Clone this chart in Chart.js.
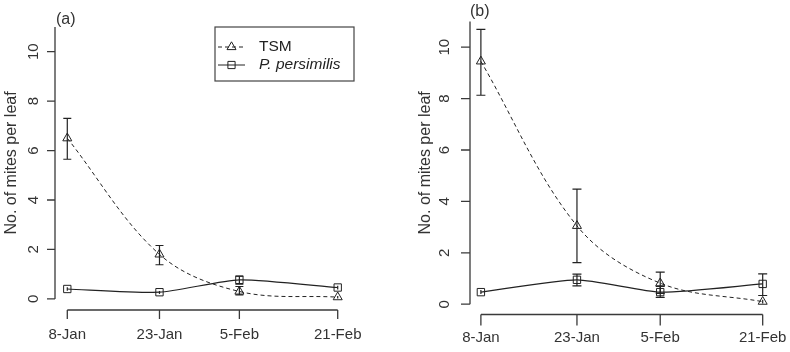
<!DOCTYPE html>
<html><head><meta charset="utf-8">
<script src="https://cdn.jsdelivr.net/npm/chart.js@4"></script>
<style>html,body{margin:0;padding:0;background:#fff;}#wrap{position:relative;width:790px;height:352px;}canvas{position:absolute;left:0;top:0;}</style>
</head><body><div id="wrap"><canvas id="ca" width="790" height="352"></canvas><canvas id="cb" width="790" height="352"></canvas></div>
<script>
// ---- data ----
const dateLabels = ['8-Jan', '23-Jan', '5-Feb', '21-Feb'];
const dayNumbers = [8, 23, 36, 52];
const yTicks = [0, 2, 4, 6, 8, 10];
const seriesNames = ['TSM', 'P. persimilis'];
const yTitle = 'No. of mites per leaf';

const tsmA    = [6.5, 1.8, 0.3, 0.07];
const tsmA_lo = [5.65, 1.38, 0.16, 0.02];
const tsmA_hi = [7.3, 2.16, 0.5, 0.12];
const perA    = [0.4, 0.27, 0.77, 0.46];
const perA_lo = [0.33, 0.2, 0.6, 0.38];
const perA_hi = [0.47, 0.32, 0.92, 0.53];

const tsmB    = [9.45, 3.05, 0.82, 0.1];
const tsmB_lo = [8.13, 1.62, 0.42, 0.03];
const tsmB_hi = [10.69, 4.48, 1.25, 0.17];
const perB    = [0.47, 0.95, 0.47, 0.79];
const perB_lo = [0.4, 0.71, 0.27, 0.34];
const perB_hi = [0.55, 1.17, 0.69, 1.18];

const INK = '#222';
const AXIS = '#3a3a3a';
const FONT = '"Liberation Sans", Arial, sans-serif';

function pts(vals) { return vals.map((v, i) => ({ x: dayNumbers[i], y: v })); }

const panelPlugin = {
  id: 'panel',
  afterDatasetsDraw(chart) {
    const o = chart.options.plugins.panel;
    const ctx = chart.ctx;
    const xs = chart.scales.x, ys = chart.scales.y;
    const ca = chart.chartArea;
    ctx.save();
    // error bars
    chart.data.datasets.forEach(ds => {
      ds.data.forEach((p, i) => {
        const x = xs.getPixelForValue(p.x);
        const y1 = ys.getPixelForValue(ds.lo[i]);
        const y2 = ys.getPixelForValue(ds.hi[i]);
        ctx.strokeStyle = INK; ctx.lineWidth = 1.2; ctx.setLineDash([]);
        ctx.beginPath();
        ctx.moveTo(x, y1); ctx.lineTo(x, y2);
        if (Math.abs(y1 - y2) > 4) {
          ctx.moveTo(x - o.cap, y1); ctx.lineTo(x + o.cap, y1);
          ctx.moveTo(x - o.cap, y2); ctx.lineTo(x + o.cap, y2);
        }
        ctx.stroke();
      });
    });
    // y axis
    ctx.strokeStyle = AXIS; ctx.lineWidth = 1.3;
    const left = ca.left;
    ctx.beginPath();
    ctx.moveTo(left, ys.getPixelForValue(0));
    ctx.lineTo(left, ca.top);
    yTicks.forEach(t => {
      const y = ys.getPixelForValue(t);
      ctx.moveTo(left - o.yTick, y); ctx.lineTo(left, y);
    });
    // x axis
    const xb = ca.bottom;
    ctx.moveTo(xs.getPixelForValue(dayNumbers[0]), xb);
    ctx.lineTo(xs.getPixelForValue(dayNumbers[dayNumbers.length - 1]), xb);
    dayNumbers.forEach(d => {
      const x = xs.getPixelForValue(d);
      ctx.moveTo(x, xb); ctx.lineTo(x, xb + o.xTick);
    });
    ctx.stroke();
    // tick labels
    ctx.fillStyle = '#333';
    ctx.font = o.tickFont + 'px ' + FONT;
    ctx.textAlign = 'center'; ctx.textBaseline = 'middle';
    dayNumbers.forEach((d, i) => {
      ctx.fillText(dateLabels[i], xs.getPixelForValue(d), xb + o.xLabelOff);
    });
    yTicks.forEach(t => {
      ctx.save();
      ctx.translate(left - o.yLabelOff, ys.getPixelForValue(t));
      ctx.rotate(-Math.PI / 2);
      ctx.fillText(String(t), 0, 0);
      ctx.restore();
    });
    // axis title
    ctx.save();
    ctx.font = o.titleFont + 'px ' + FONT;
    ctx.translate(o.titleX, (ys.getPixelForValue(0) + ca.top) / 2);
    ctx.rotate(-Math.PI / 2);
    ctx.fillText(yTitle, 0, 0);
    ctx.restore();
    // panel label
    ctx.font = o.titleFont + 'px ' + FONT;
    ctx.textAlign = 'left'; ctx.textBaseline = 'alphabetic';
    ctx.fillText(o.label, o.labelX, o.labelY);
    // legend
    if (o.legend) {
      const L = o.legend;
      ctx.strokeStyle = '#444'; ctx.lineWidth = 1.2;
      ctx.strokeRect(L.x, L.y, L.w, L.h);
      const rows = [L.y + 20, L.y + 38];
      chart.data.datasets.forEach((ds, k) => {
        const ry = rows[k];
        ctx.strokeStyle = INK; ctx.lineWidth = 1;
        ctx.setLineDash(ds.borderDash || []);
        ctx.beginPath(); ctx.moveTo(L.x + 3, ry); ctx.lineTo(L.x + 30, ry); ctx.stroke();
        ctx.setLineDash([]);
        const cx = L.x + 16.5;
        ctx.beginPath();
        if (ds.pointStyle === 'triangle') {
          const r = 5.2;
          ctx.moveTo(cx, ry - r); ctx.lineTo(cx + r * 0.866, ry + r / 2); ctx.lineTo(cx - r * 0.866, ry + r / 2); ctx.closePath();
        } else {
          ctx.rect(cx - 3.6, ry - 3.6, 7.2, 7.2);
        }
        ctx.stroke();
        ctx.fillStyle = '#222';
        ctx.font = (k === 1 ? 'italic ' : '') + L.font + 'px ' + FONT;
        ctx.textBaseline = 'middle';
        ctx.fillText(ds.label, L.x + 44, ry);
      });
    }
    ctx.restore();
  }
};

function makeChart(id, tsm, tlo, thi, per, plo, phi, xmin, xmax, ymin, ymax, padding, panelOpts) {
  return new Chart(document.getElementById(id), {
    type: 'line',
    data: {
      datasets: [
        { label: seriesNames[0], data: pts(tsm), lo: tlo, hi: thi,
          borderColor: INK, borderWidth: 1, borderDash: [4, 3], tension: 0.35,
          pointStyle: 'triangle', pointRadius: 5.2, pointBorderColor: INK, pointBorderWidth: 1,
          pointBackgroundColor: 'rgba(0,0,0,0)', fill: false },
        { label: seriesNames[1], data: pts(per), lo: plo, hi: phi,
          borderColor: INK, borderWidth: 1.2, tension: 0.2,
          pointStyle: 'rect', pointRadius: 5.2, pointBorderColor: INK, pointBorderWidth: 1,
          pointBackgroundColor: 'rgba(0,0,0,0)', fill: false }
      ]
    },
    options: {
      responsive: false, animation: false, devicePixelRatio: 1,
      layout: { padding: padding },
      scales: {
        x: { type: 'linear', min: xmin, max: xmax, display: false },
        y: { type: 'linear', min: ymin, max: ymax, display: false }
      },
      plugins: { legend: { display: false }, tooltip: { enabled: false }, panel: panelOpts }
    },
    plugins: [panelPlugin]
  });
}

makeChart('ca', tsmA, tsmA_lo, tsmA_hi, perA, perA_lo, perA_hi,
  6, 54, -0.45, 11,
  { left: 55, right: 440, top: 27, bottom: 42 },
  { cap: 4, yTick: 8, xTick: 9, xLabelOff: 25, yLabelOff: 21.5, tickFont: 15, titleFont: 16,
    titleX: 12, label: '(a)', labelX: 56, labelY: 24,
    legend: { x: 215, y: 27, w: 139, h: 54, font: 15.5 } });

makeChart('cb', tsmB, tsmB_lo, tsmB_hi, perB, perB_lo, perB_hi,
  6.3, 54, -0.4, 11,
  { left: 470, right: 14.5, top: 21.5, bottom: 37.5 },
  { cap: 4.5, yTick: 9, xTick: 11, xLabelOff: 23, yLabelOff: 25, tickFont: 15, titleFont: 16,
    titleX: 426, label: '(b)', labelX: 470, labelY: 16, legend: null });
</script></body></html>
